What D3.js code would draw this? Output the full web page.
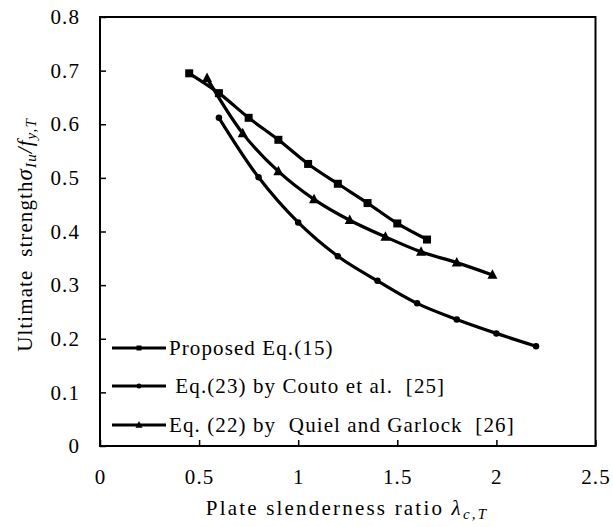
<!DOCTYPE html>
<html>
<head>
<meta charset="utf-8">
<script src="https://cdn.jsdelivr.net/npm/d3@7"></script>
<style>
  body { margin: 0; background: #fff; }
  svg { display: block; }
</style>
</head>
<body>
<script>
// Ultimate strength vs plate slenderness, three design equations
const proposedX = [0.45, 0.60, 0.75, 0.90, 1.05, 1.20, 1.35, 1.50, 1.65];
const proposedY = [0.695, 0.658, 0.612, 0.571, 0.526, 0.489, 0.453, 0.415, 0.385];

const coutoX = [0.60, 0.80, 1.00, 1.20, 1.40, 1.60, 1.80, 2.00, 2.20];
const coutoY = [0.612, 0.501, 0.417, 0.354, 0.308, 0.266, 0.236, 0.210, 0.186];

const quielX = [0.54, 0.72, 0.90, 1.08, 1.26, 1.44, 1.62, 1.80, 1.98];
const quielY = [0.686, 0.583, 0.512, 0.460, 0.421, 0.390, 0.362, 0.342, 0.319];

const seriesNames = [
  "Proposed Eq.(15)",
  " Eq.(23) by Couto et al.  [25]",
  "Eq. (22) by  Quiel and Garlock  [26]"
];
const markerKinds = ["square", "circle", "triangle"];

const xTicks = [0, 0.5, 1, 1.5, 2, 2.5];
const yTicks = [0, 0.1, 0.2, 0.3, 0.4, 0.5, 0.6, 0.7, 0.8];

const FONT = "'Liberation Serif', serif";
const W = 613, H = 527;
const plotLeft = 100, plotRight = 595.5, plotTop = 17, plotBottom = 446;

const svg = d3.select("body").append("svg")
  .attr("width", W).attr("height", H)
  .style("font-family", FONT);

const x = d3.scaleLinear().domain([0, 2.5]).range([plotLeft, plotRight]);
const y = d3.scaleLinear().domain([0, 0.8]).range([plotBottom, plotTop]);

// axes: ticks point into the plot area
const fmt = d => d === 0 ? "0" : String(d);
const xAxis = d3.axisBottom(x).tickValues(xTicks).tickFormat(fmt)
  .tickSizeInner(-6).tickSizeOuter(0).tickPadding(23);
const yAxis = d3.axisLeft(y).tickValues(yTicks).tickFormat(fmt)
  .tickSizeInner(-6).tickSizeOuter(0).tickPadding(20);

const gx = svg.append("g").attr("transform", `translate(0,${plotBottom})`).call(xAxis);
const gy = svg.append("g").attr("transform", `translate(${plotLeft},0)`).call(yAxis);
[gx, gy].forEach(g => {
  g.attr("font-family", null).attr("font-size", null);
  g.select(".domain").remove();
  g.selectAll(".tick line").attr("stroke", "#000").attr("stroke-width", 1.5);
  g.selectAll(".tick text")
    .attr("fill", "#000")
    .style("font-family", FONT)
    .style("font-size", "21px")
    .style("letter-spacing", "1.1px");
});

// plot frame
svg.append("rect")
  .attr("x", plotLeft).attr("y", plotTop)
  .attr("width", plotRight - plotLeft).attr("height", plotBottom - plotTop)
  .attr("fill", "none").attr("stroke", "#000").attr("stroke-width", 2);

const series = [
  { xs: proposedX, ys: proposedY },
  { xs: coutoX, ys: coutoY },
  { xs: quielX, ys: quielY }
];

const line = d3.line()
  .x(d => x(d[0])).y(d => y(d[1]))
  .curve(d3.curveCatmullRom.alpha(0.5));

function drawMarker(g, kind, cx, cy, s) {
  if (kind === "square") {
    g.append("rect").attr("x", cx - s / 2).attr("y", cy - s / 2)
      .attr("width", s).attr("height", s).attr("fill", "#000");
  } else if (kind === "circle") {
    g.append("circle").attr("cx", cx).attr("cy", cy).attr("r", s / 2).attr("fill", "#000");
  } else {
    const h = s * 0.95;
    g.append("path")
      .attr("d", `M${cx},${cy - h * 0.6}L${cx + s / 2},${cy + h * 0.4}L${cx - s / 2},${cy + h * 0.4}Z`)
      .attr("fill", "#000");
  }
}

const markerSize = { square: 8, circle: 6.5, triangle: 10 };

series.forEach((s, i) => {
  const pts = s.xs.map((v, j) => [v, s.ys[j]]);
  svg.append("path").datum(pts)
    .attr("d", line)
    .attr("fill", "none").attr("stroke", "#000")
    .attr("stroke-width", 3.2).attr("stroke-linejoin", "round");
  const g = svg.append("g");
  pts.forEach(p => drawMarker(g, markerKinds[i], x(p[0]), y(p[1]), markerSize[markerKinds[i]]));
});

// legend
const legendRows = [348, 386, 425];
const legendMarker = { square: 5, circle: 5, triangle: 7 };
seriesNames.forEach((name, i) => {
  const ly = legendRows[i];
  const g = svg.append("g");
  g.append("line").attr("x1", 112).attr("x2", 166).attr("y1", ly).attr("y2", ly)
    .attr("stroke", "#000").attr("stroke-width", 3.2);
  drawMarker(g, markerKinds[i], 139, ly, legendMarker[markerKinds[i]]);
  g.append("text").attr("x", 169).attr("y", ly + 7)
    .style("font-family", FONT)
    .style("font-size", "21px")
    .style("white-space", "pre")
    .style("letter-spacing", "1.1px")
    .text(name);
});

// x-axis title, centred under the plot by measured width
const xt = svg.append("text")
  .attr("y", 515)
  .style("font-family", FONT)
  .style("font-size", "21px")
  .style("letter-spacing", "2.2px");
xt.append("tspan").text("Plate slenderness ratio ");
xt.append("tspan").style("font-style", "italic").text("λ");
xt.append("tspan").style("font-style", "italic").style("font-size", "15px").attr("dy", 4).text("c,T");
xt.attr("x", 347 - xt.node().getComputedTextLength() / 2);

// y-axis title, rotated and centred on the plot height by measured width
const yt = svg.append("text")
  .attr("transform", "translate(32,235) rotate(-90)")
  .style("font-family", FONT)
  .style("font-size", "21px")
  .style("white-space", "pre")
  .style("letter-spacing", "1.1px");
yt.append("tspan").text("Ultimate  strength");
yt.append("tspan").style("font-style", "italic").style("font-size", "23px").text("σ");
yt.append("tspan").style("font-style", "italic").style("font-size", "15px").attr("dy", 4).text("Iu");
yt.append("tspan").style("font-style", "italic").attr("dy", -4).text("/f");
yt.append("tspan").style("font-style", "italic").style("font-size", "15px").attr("dy", 4).text("y,T");
yt.attr("x", -yt.node().getComputedTextLength() / 2);
</script>
</body>
</html>
